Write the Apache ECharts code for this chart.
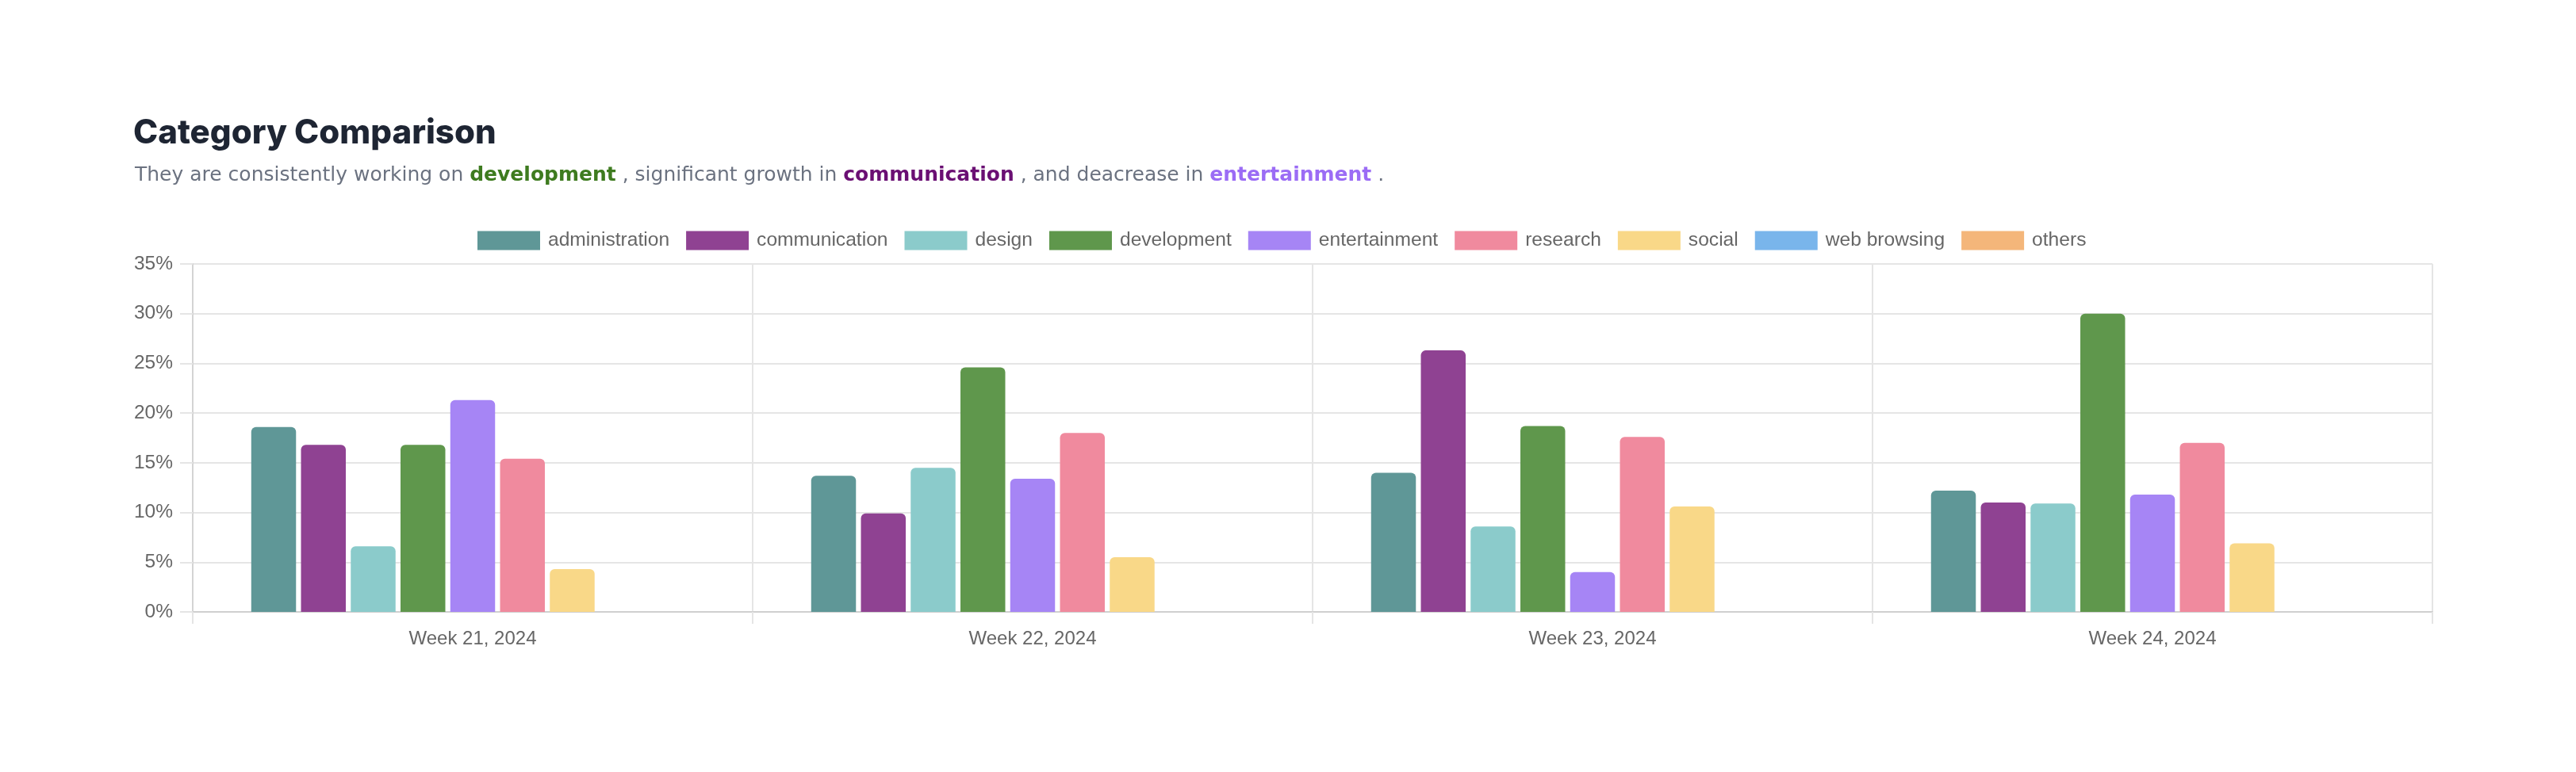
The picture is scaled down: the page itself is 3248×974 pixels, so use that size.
<!DOCTYPE html>
<html><head><meta charset="utf-8">
<script src="https://cdn.jsdelivr.net/npm/echarts@6/dist/echarts.min.js"></script>
<style>html,body{margin:0;padding:0;background:#fff}#c{width:3248px;height:974px}</style>
</head><body><div id="c"></div>
<script>
const weeks = ['Week 21, 2024', 'Week 22, 2024', 'Week 23, 2024', 'Week 24, 2024'];
const seriesNames = ['administration', 'communication', 'design', 'development', 'entertainment', 'research', 'social', 'web browsing', 'others'];
const administration = [18.6, 13.7, 14.0, 12.2];
const communication = [16.8, 9.9, 26.3, 11.0];
const design = [6.6, 14.5, 8.6, 10.9];
const development = [16.8, 24.6, 18.7, 30.0];
const entertainment = [21.3, 13.4, 4.0, 11.8];
const research = [15.4, 18.0, 17.6, 17.0];
const social = [4.3, 5.5, 10.6, 6.9];
const webBrowsing = [0, 0, 0, 0];
const others = [0, 0, 0, 0];
const seriesValues = [administration, communication, design, development, entertainment, research, social, webBrowsing, others];
const colors = ['#5f9797', '#8f4292', '#8bcbcb', '#5f974c', '#a685f5', '#f08a9e', '#f9d888', '#79b5eb', '#f4b67a'];
const yMax = 35, yStep = 5;

const chart = echarts.init(document.getElementById('c'), null, {renderer: 'canvas'});
const FONT = '"Liberation Sans", Arial, Helvetica, sans-serif';
const SUBFONT = '"DejaVu Sans", "Noto Sans", sans-serif';
chart.setOption({
  animation: false,
  backgroundColor: '#ffffff',
  title: [
    {
      text: 'Category Comparison', left: 163, top: 142,
      textStyle: {fontFamily: 'Inter, "Noto Sans", sans-serif', fontWeight: 800, fontSize: 42, color: '#1e2533'}
    },
    {
      text: 'They are consistently working on {g|development} , significant growth in {p|communication} , and deacrease in {v|entertainment} .',
      left: 165, top: 204,
      textStyle: {
        fontFamily: SUBFONT, fontWeight: 400, fontSize: 25, color: '#6b7280',
        rich: {
          g: {fontFamily: SUBFONT, fontWeight: 700, fontSize: 25, color: '#3e7b1f'},
          p: {fontFamily: SUBFONT, fontWeight: 700, fontSize: 25, color: '#6a0f73'},
          v: {fontFamily: SUBFONT, fontWeight: 700, fontSize: 25, color: '#9b6cf5'}
        }
      }
    }
  ],
  legend: {
    top: 286, left: 597,
    itemWidth: 79, itemHeight: 24, itemGap: 21,
    icon: 'rect',
    textStyle: {fontFamily: FONT, fontSize: 24.6, color: '#666666', padding: [0, 0, 0, 5]},
    data: seriesNames
  },
  grid: {left: 243, right: 181, top: 333, bottom: 202, containLabel: false},
  xAxis: {
    type: 'category', data: weeks,
    axisLine: {show: true, lineStyle: {color: '#cfcfcf', width: 2}},
    axisTick: {show: true, length: 15, lineStyle: {color: '#e5e5e5', width: 2}},
    splitLine: {show: true, lineStyle: {color: '#e5e5e5', width: 2}},
    axisLabel: {fontFamily: FONT, fontSize: 24, color: '#666666', margin: 22}
  },
  yAxis: {
    type: 'value', min: 0, max: yMax, interval: yStep,
    axisLine: {show: true, lineStyle: {color: '#d4d4d4', width: 2}},
    axisTick: {show: true, length: 16, lineStyle: {color: '#e5e5e5', width: 2}},
    splitLine: {show: true, lineStyle: {color: '#e5e5e5', width: 2}},
    axisLabel: {fontFamily: FONT, fontSize: 24.5, color: '#666666', margin: 25, formatter: '{value}%'}
  },
  series: seriesNames.map((name, i) => ({
    name: name, type: 'bar', data: seriesValues[i],
    barGap: '11.1%', barCategoryGap: '20.9%',
    itemStyle: {color: colors[i], borderRadius: [6, 6, 0, 0]}
  }))
});
</script></body></html>
